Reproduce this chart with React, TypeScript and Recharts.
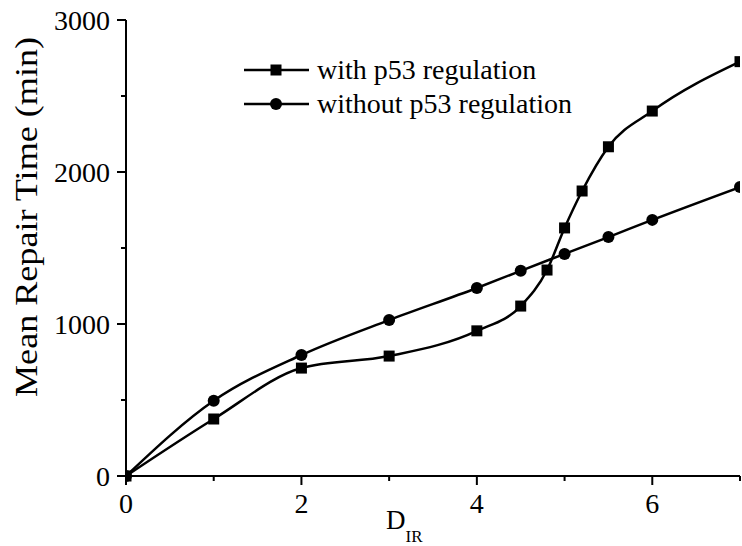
import { Legend, Line, LineChart, XAxis, YAxis } from "recharts";

// dose values (D_IR) for each series
const withDoses = [0, 1, 2, 3, 4, 4.5, 4.8, 5, 5.2, 5.5, 6, 7];
const withTimes = [0, 375, 710, 789, 955, 1118, 1355, 1632, 1875, 2166, 2401, 2726];

const withoutDoses = [0, 1, 2, 3, 4, 4.5, 5, 5.5, 6, 7];
const withoutTimes = [0, 495, 796, 1026, 1237, 1350, 1461, 1572, 1685, 1901];

const xTicks = [0, 1, 2, 3, 4, 5, 6, 7];
const xLabelled = [0, 2, 4, 6];
const yTicks = [0, 500, 1000, 1500, 2000, 2500, 3000];
const yLabelled = [0, 1000, 2000, 3000];

const seriesNames = ["with p53 regulation", "without p53 regulation"];

const withData = withDoses.map((d, i) => ({ x: d, y: withTimes[i] }));
const withoutData = withoutDoses.map((d, i) => ({ x: d, y: withoutTimes[i] }));

const FONT = "'Liberation Serif', 'Times New Roman', serif";
const TICK_SIZE = 9;
const TICK_MARGIN_Y = 7;
const TICK_MARGIN_X = 8;

const SquareDot = (props: any) => {
  const { cx, cy, index } = props;
  if (cx == null || cy == null) return <g key={`s-${index}`} />;
  return <rect key={`s-${index}`} x={cx - 5.5} y={cy - 5.5} width={11} height={11} fill="#000" />;
};

const CircleDot = (props: any) => {
  const { cx, cy, index } = props;
  if (cx == null || cy == null) return <g key={`c-${index}`} />;
  return <circle key={`c-${index}`} cx={cx} cy={cy} r={6} fill="#000" />;
};

const YTick = (props: any) => {
  const { x, y, payload } = props;
  const major = yLabelled.includes(payload.value);
  const ax = x + TICK_MARGIN_Y + TICK_SIZE;
  return (
    <g>
      <line x1={ax - (major ? TICK_SIZE : 5)} x2={ax} y1={y} y2={y} stroke="#000" strokeWidth={2} />
      {major && (
        <text x={x} y={y} dy="0.35em" textAnchor="end" fontSize={28} fontFamily={FONT} fill="#000">
          {payload.value}
        </text>
      )}
    </g>
  );
};

const XTick = (props: any) => {
  const { x, y, payload } = props;
  const major = xLabelled.includes(payload.value);
  const ay = y - TICK_MARGIN_X - TICK_SIZE;
  return (
    <g>
      <line x1={x} x2={x} y1={ay} y2={ay + (major ? TICK_SIZE : 5)} stroke="#000" strokeWidth={2} />
      {major && (
        <text x={x} y={y} dy="0.71em" textAnchor="middle" fontSize={28} fontFamily={FONT} fill="#000">
          {payload.value}
        </text>
      )}
    </g>
  );
};

const LegendBox = () => (
  <div style={{ fontFamily: FONT, fontSize: 28, color: "#000" }}>
    {seriesNames.map((name, i) => (
      <div key={name} style={{ display: "flex", alignItems: "center", height: 34 }}>
        <svg width={65} height={34} style={{ display: "block" }}>
          <line x1={0} x2={65} y1={17} y2={17} stroke="#000" strokeWidth={2.5} />
          {i === 0 ? (
            <rect x={32 - 5.5} y={17 - 5.5} width={11} height={11} fill="#000" />
          ) : (
            <circle cx={32} cy={17} r={6} fill="#000" />
          )}
        </svg>
        <span style={{ marginLeft: 8, lineHeight: "34px", whiteSpace: "nowrap" }}>{name}</span>
      </div>
    ))}
  </div>
);

const XLabel = () => (
  <text x={386} y={529} fontFamily={FONT} fill="#000">
    <tspan fontSize={27}>D</tspan>
    <tspan fontSize={17} dy={13}>IR</tspan>
  </text>
);

const YLabel = () => (
  <text
    x={37}
    y={397}
    transform="rotate(-90, 37, 397)"
    textAnchor="start"
    fontFamily={FONT}
    fontSize={31}
    textLength={360}
    lengthAdjust="spacingAndGlyphs"
    fill="#000"
  >
    Mean Repair Time (min)
  </text>
);

export default function App() {
  return (
    <div style={{ position: "absolute", left: 0, top: 0, background: "#fff" }}>
      <LineChart width={742} height={546} margin={{ top: 20, right: 2, bottom: 0, left: 0 }}>
        <XAxis
          dataKey="x"
          type="number"
          domain={[0, 7]}
          ticks={xTicks}
          interval={0}
          height={70}
          tickSize={TICK_SIZE}
          tickMargin={TICK_MARGIN_X}
          tickLine={false}
          tick={<XTick />}
          axisLine={{ stroke: "#000", strokeWidth: 2 }}
          allowDataOverflow
          label={<XLabel />}
        />
        <XAxis
          xAxisId="top"
          orientation="top"
          dataKey="x"
          type="number"
          domain={[0, 7]}
          height={0}
          tick={false}
          tickLine={false}
          axisLine={{ stroke: "#777", strokeWidth: 1 }}
        />
        <YAxis
          type="number"
          domain={[0, 3000]}
          ticks={yTicks}
          interval={0}
          width={126}
          tickSize={TICK_SIZE}
          tickMargin={TICK_MARGIN_Y}
          tickLine={false}
          tick={<YTick />}
          axisLine={{ stroke: "#000", strokeWidth: 2 }}
          label={<YLabel />}
        />
        <Legend
          layout="vertical"
          align="center"
          verticalAlign="middle"
          content={<LegendBox />}
          wrapperStyle={{ left: 244, top: 53, width: "auto" }}
        />
        <Line
          data={withData}
          dataKey="y"
          name={seriesNames[0]}
          type="monotone"
          stroke="#000"
          strokeWidth={2.5}
          dot={SquareDot}
          activeDot={false}
          isAnimationActive={false}
        />
        <Line
          data={withoutData}
          dataKey="y"
          name={seriesNames[1]}
          type="monotone"
          stroke="#000"
          strokeWidth={2.5}
          dot={CircleDot}
          activeDot={false}
          isAnimationActive={false}
        />
      </LineChart>
    </div>
  );
}
